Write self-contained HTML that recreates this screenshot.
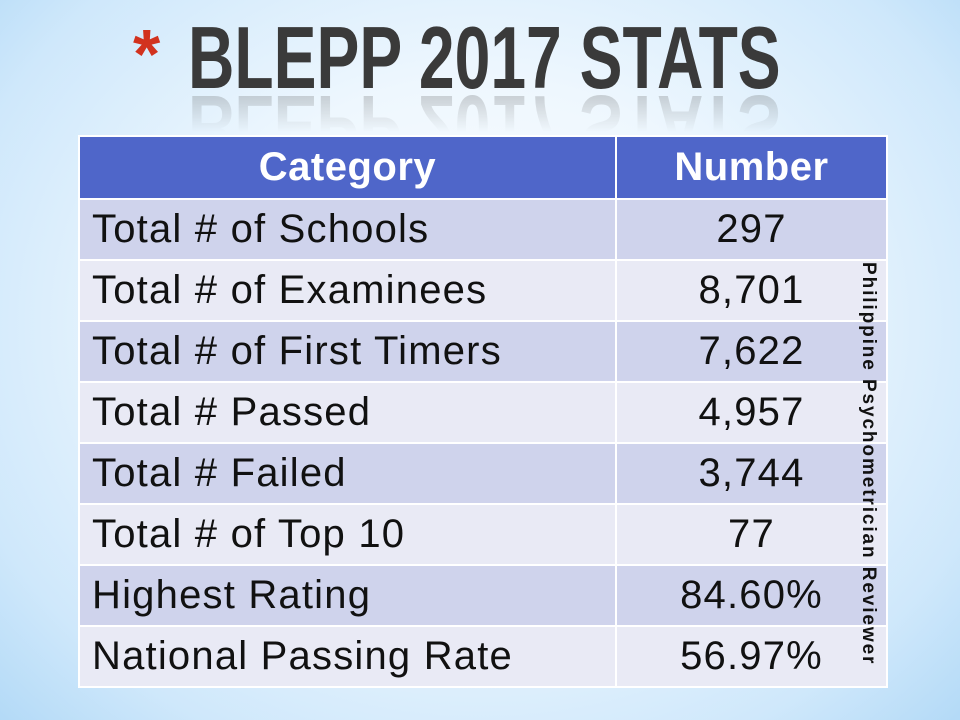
<!DOCTYPE html>
<html><head><meta charset="utf-8"><style>
body{margin:0;width:960px;height:720px;overflow:hidden;position:relative;font-family:"Liberation Sans",sans-serif;
background:radial-gradient(ellipse 75% 85% at 50% 45%,#ffffff 0%,#eef7fe 40%,#cfe8fb 75%,#a8d4f5 100%);}
.t{font-family:"Liberation Sans Narrow","Liberation Sans",sans-serif;font-weight:bold;font-size:88px;line-height:100px;white-space:nowrap;transform-origin:left top;}
.title{position:absolute;left:188px;top:8px;color:#3a3a3a;transform:scaleX(0.73);}
.reflw{position:absolute;left:188px;top:90px;width:700px;height:42px;overflow:hidden;opacity:.28;-webkit-mask-image:linear-gradient(to bottom,#000,transparent);mask-image:linear-gradient(to bottom,#000,transparent);}
.refl{position:absolute;left:0;top:-86px;color:#555;transform:scaleX(0.73) scaleY(-1);transform-origin:0 86px;}
.ast{position:absolute;left:133px;top:14px;font-size:70px;color:#d2321e;font-weight:bold;}
table{position:absolute;left:78px;top:135px;width:810px;border-collapse:collapse;}
td,th{height:59px;padding:0;font-size:40px;letter-spacing:1.2px;color:#111;border:2px solid #fff;}
th{background:#4f66c9;color:#fff;font-weight:bold;height:61px;letter-spacing:0.5px;}
td.c{padding-left:12px;text-align:left}
td.n{text-align:center}
tr.a td{background:#cfd3ec}
tr.b td{background:#e9eaf5}
.side{position:absolute;left:857px;top:262px;writing-mode:vertical-rl;font-size:19px;font-weight:bold;color:#111;letter-spacing:1.9px;white-space:nowrap;}
</style></head><body>
<div class="ast">*</div>
<div class="t title">BLEPP 2017 STATS</div>
<div class="reflw"><div class="t refl">BLEPP 2017 STATS</div></div>
<table>
<tr><th style="width:535px">Category</th><th>Number</th></tr>
<tr class="a"><td class="c">Total # of Schools</td><td class="n">297</td></tr>
<tr class="b"><td class="c">Total # of Examinees</td><td class="n">8,701</td></tr>
<tr class="a"><td class="c">Total # of First Timers</td><td class="n">7,622</td></tr>
<tr class="b"><td class="c">Total # Passed</td><td class="n">4,957</td></tr>
<tr class="a"><td class="c">Total # Failed</td><td class="n">3,744</td></tr>
<tr class="b"><td class="c">Total # of Top 10</td><td class="n">77</td></tr>
<tr class="a"><td class="c">Highest Rating</td><td class="n">84.60%</td></tr>
<tr class="b"><td class="c">National Passing Rate</td><td class="n">56.97%</td></tr>
</table>
<div class="side">Philippine Psychometrician Reviewer</div>
</body></html>
